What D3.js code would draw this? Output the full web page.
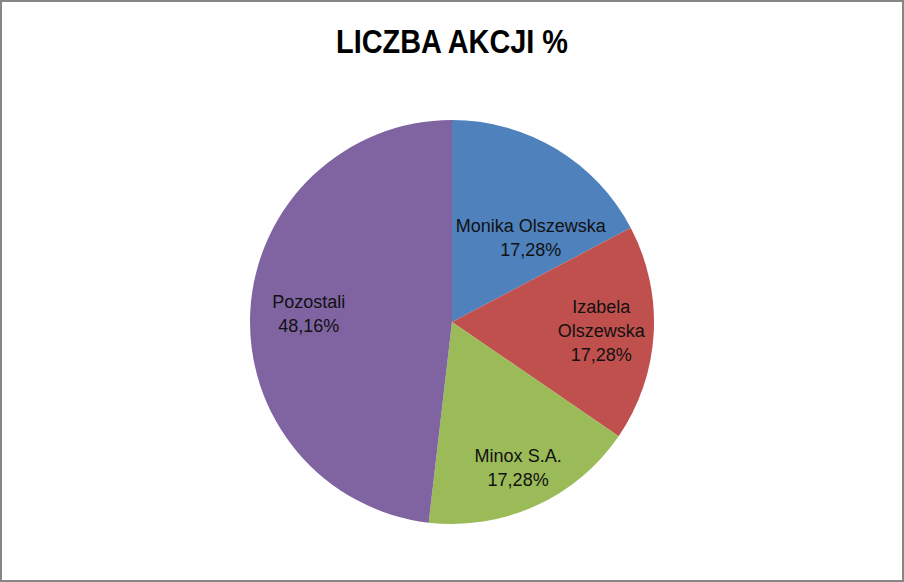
<!DOCTYPE html>
<html>
<head>
<meta charset="utf-8">
<script src="https://cdn.jsdelivr.net/npm/d3@7"></script>
<style>
  html, body { margin: 0; padding: 0; background: #fff; }
  svg { display: block; }
</style>
</head>
<body>
<svg id="chart" width="904" height="582"></svg>
<script>
// data
const chartTitle = "LICZBA AKCJI %";
const holders = ["Monika Olszewska", "Izabela Olszewska", "Minox S.A.", "Pozostali"];
const shares  = [17.28, 17.28, 17.28, 48.16];
const labelLines = [
  ["Monika Olszewska"],
  ["Izabela", "Olszewska"],
  ["Minox S.A."],
  ["Pozostali"]
];
const colors = ["#4F81BD", "#C0504D", "#9BBB59", "#8064A2"];

const W = 904, H = 582;
const cx = 452, cy = 322, R = 202;

const svg = d3.select("#chart");

// outer frame
svg.append("rect")
  .attr("x", 1).attr("y", 1)
  .attr("width", W - 2).attr("height", H - 2)
  .attr("fill", "#fff")
  .attr("stroke", "#868686")
  .attr("stroke-width", 2);

// title
svg.append("text")
  .attr("x", cx).attr("y", 53)
  .attr("text-anchor", "middle")
  .attr("font-family", "'Liberation Sans', Arial, sans-serif")
  .attr("font-weight", "bold")
  .attr("font-size", 33)
  .attr("textLength", 232)
  .attr("lengthAdjust", "spacingAndGlyphs")
  .attr("fill", "#000")
  .text(chartTitle);

const slices = holders.map((h, i) => ({ name: h, value: shares[i], lines: labelLines[i], color: colors[i] }));

const pie = d3.pie().sort(null).value(d => d.value);
const arc = d3.arc().innerRadius(0).outerRadius(R);

const g = svg.append("g").attr("transform", `translate(${cx},${cy})`);
const arcs = pie(slices);

g.selectAll("path")
  .data(arcs)
  .join("path")
    .attr("d", arc)
    .attr("fill", d => d.data.color);

// label placement: along the slice's mid angle, Excel nudges the first one to fit
const labelR = { "Monika Olszewska": 0.57, "Izabela Olszewska": 0.74, "Minox S.A.": 0.79, "Pozostali": 0.71 };
const labelShift = { "Monika Olszewska": 12 };  // degrees, clockwise

const fmt = v => v.toFixed(2).replace(".", ",") + "%";
const lineH = 24;

arcs.forEach(d => {
  const mid = (d.startAngle + d.endAngle) / 2 + (labelShift[d.data.name] || 0) * Math.PI / 180;
  const r = R * labelR[d.data.name];
  const x = Math.sin(mid) * r, y = -Math.cos(mid) * r;
  const lines = d.data.lines.concat([fmt(d.data.value)]);
  const y0 = y - (lines.length - 1) * lineH / 2;
  const t = g.append("text")
    .attr("text-anchor", "middle")
    .attr("font-family", "'Liberation Sans', Arial, sans-serif")
    .attr("font-size", 18)
    .attr("fill", "#111");
  lines.forEach((s, k) => {
    t.append("tspan")
      .attr("x", x)
      .attr("y", y0 + k * lineH)
      .attr("dy", "0.35em")
      .text(s);
  });
});
</script>
</body>
</html>
